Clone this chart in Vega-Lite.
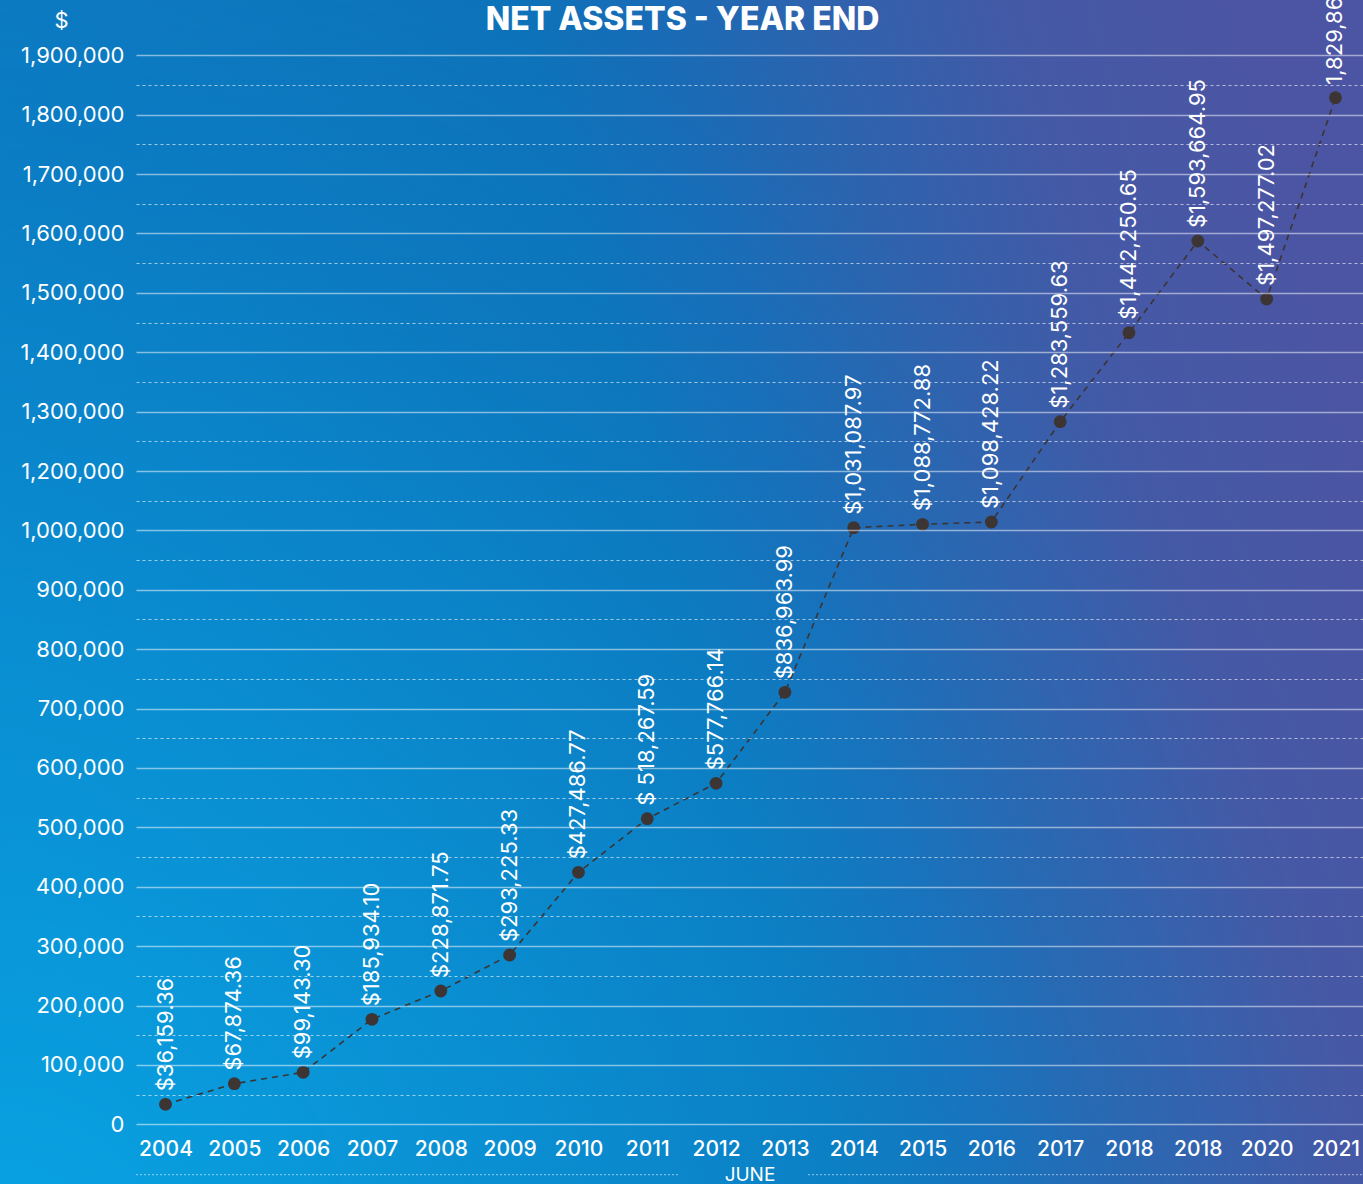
{
  "$schema": "https://vega.github.io/schema/vega-lite/v6.json",
  "width": 1227,
  "height": 1124,
  "autosize": {"type": "none"},
  "padding": {"left": 136, "top": 0, "right": 0, "bottom": 60},
  "background": "#0a78c0",
  "config": {
    "view": {"stroke": null},
    "font": "Inter",
    "axis": {
      "labelColor": "white",
      "titleColor": "white",
      "labelFont": "Inter",
      "titleFont": "Inter",
      "domain": false,
      "ticks": false,
      "tickSize": 0
    }
  },
  "resolve": {"axis": {"x": "independent", "y": "independent"}},
  "data": {
    "values": [
      {"year": 2004, "value": 33670, "label": "$36,159.36"},
      {"year": 2005, "value": 68350, "label": "$67,874.36"},
      {"year": 2006, "value": 87540, "label": "$99,143.30"},
      {"year": 2007, "value": 176770, "label": "$185,934.10"},
      {"year": 2008, "value": 224410, "label": "$228,871.75"},
      {"year": 2009, "value": 285020, "label": "$293,225.33"},
      {"year": 2010, "value": 424240, "label": "$427,486.77"},
      {"year": 2011, "value": 514480, "label": "$ 518,267.59"},
      {"year": 2012, "value": 574070, "label": "$577,766.14"},
      {"year": 2013, "value": 727270, "label": "$836,963.99"},
      {"year": 2014, "value": 1030600, "label": "$1,031,087.97"},
      {"year": 2015, "value": 1070600, "label": "$1,088,772.88"},
      {"year": 2016, "value": 1097600, "label": "$1,098,428.22"},
      {"year": 2017, "value": 1283000, "label": "$1,283,559.63"},
      {"year": 2018, "value": 1432800, "label": "$1,442,250.65"},
      {"year": 2019, "value": 1587200, "label": "$1,593,664.95"},
      {"year": 2020, "value": 1489600, "label": "$1,497,277.02"},
      {"year": 2021, "value": 1828500, "label": "1,829,86"}
    ]
  },
  "layer": [
    {
      "data": {"values": [{}]},
      "mark": {
        "type": "rect",
        "color": {
          "gradient": "linear",
          "x1": 0, "y1": 0.62, "x2": 1, "y2": 0.38,
          "stops": [
            {"offset": 0, "color": "#0a7cc4"},
            {"offset": 0.5, "color": "#0d72b9"},
            {"offset": 0.6, "color": "#1a6bb6"},
            {"offset": 0.72, "color": "#3062ad"},
            {"offset": 0.85, "color": "#4559a6"},
            {"offset": 1, "color": "#4b55a3"}
          ]
        }
      },
      "encoding": {
        "x": {"datum": 2001.595, "type": "quantitative", "scale": {"domain": [2003.571, 2021.4], "nice": false, "zero": false}, "axis": null},
        "x2": {"datum": 2021.4},
        "y": {"datum": 1992929, "type": "quantitative", "scale": {"domain": [0, 1000000, 1100000, 1150000, 1200000, 2000000], "range": [1124.3, 530.3, 521.8, 500.65, 471, -4.2], "nice": false, "zero": false}, "axis": null},
        "y2": {"datum": -100505}
      }
    },
    {
      "data": {"values": [{}]},
      "mark": {
        "type": "rect",
        "color": {
          "gradient": "radial",
          "x1": 0, "y1": 1, "r1": 0, "x2": 0, "y2": 1, "r2": 1,
          "stops": [
            {"offset": 0, "color": "rgba(8,170,232,0.85)"},
            {"offset": 0.3, "color": "rgba(8,170,232,0.55)"},
            {"offset": 0.55, "color": "rgba(8,170,232,0.3)"},
            {"offset": 0.8, "color": "rgba(8,170,232,0.08)"},
            {"offset": 1, "color": "rgba(8,170,232,0)"}
          ]
        }
      },
      "encoding": {
        "x": {"datum": 2001.595, "type": "quantitative", "scale": {"domain": [2003.571, 2021.4], "nice": false, "zero": false}, "axis": null},
        "x2": {"datum": 2021.4},
        "y": {"datum": 1992929, "type": "quantitative", "scale": {"domain": [0, 1000000, 1100000, 1150000, 1200000, 2000000], "range": [1124.3, 530.3, 521.8, 500.65, 471, -4.2], "nice": false, "zero": false}, "axis": null},
        "y2": {"datum": -100505}
      }
    },
    {
      "data": {"values": [{}]},
      "mark": {"type": "rule", "color": "white", "opacity": 0.55, "strokeWidth": 1, "strokeDash": [2, 2]},
      "encoding": {
        "x": {"datum": 2003.571, "type": "quantitative", "scale": {"domain": [2003.571, 2021.4], "nice": false, "zero": false}, "axis": null},
        "x2": {"datum": 2011.476},
        "y": {"datum": -84848, "type": "quantitative", "scale": {"domain": [0, 1000000, 1100000, 1150000, 1200000, 2000000], "range": [1124.3, 530.3, 521.8, 500.65, 471, -4.2], "nice": false, "zero": false}, "axis": null}
      }
    },
    {
      "data": {"values": [{}]},
      "mark": {"type": "rule", "color": "white", "opacity": 0.55, "strokeWidth": 1, "strokeDash": [2, 2]},
      "encoding": {
        "x": {"datum": 2013.336, "type": "quantitative", "scale": {"domain": [2003.571, 2021.4], "nice": false, "zero": false}, "axis": null},
        "x2": {"datum": 2021.4},
        "y": {"datum": -84848, "type": "quantitative", "scale": {"domain": [0, 1000000, 1100000, 1150000, 1200000, 2000000], "range": [1124.3, 530.3, 521.8, 500.65, 471, -4.2], "nice": false, "zero": false}, "axis": null}
      }
    },
    {
      "mark": {"type": "line", "color": "#3b3434", "strokeWidth": 1.6, "strokeDash": [6, 5]},
      "encoding": {
        "x": {
          "field": "year", "type": "quantitative",
          "scale": {"domain": [2003.571, 2021.4], "nice": false, "zero": false},
          "axis": {
            "zindex": 1,
            "orient": "bottom",
            "values": [2004, 2005, 2006, 2007, 2008, 2009, 2010, 2011, 2012, 2013, 2014, 2015, 2016, 2017, 2018, 2019, 2020, 2021],
            "format": "d",
            "labelExpr": "datum.value == 2019 ? '2018' : datum.label",
            "labelFontSize": 21,
            "labelFontWeight": 500,
            "labelPadding": 14,
            "labelFlush": false,
            "labelOverlap": false,
            "grid": false,
            "title": "JUNE",
            "titleFontSize": 19,
            "titleFontWeight": "normal",
            "titleBaseline": "alphabetic",
            "titleY": 56
          }
        },
        "y": {
          "field": "value", "type": "quantitative",
          "scale": {"domain": [0, 1000000, 1100000, 1150000, 1200000, 2000000], "range": [1124.3, 530.3, 521.8, 500.65, 471, -4.2], "nice": false, "zero": false},
          "axis": {
            "zindex": 1,
            "orient": "left",
            "values": [0, 100000, 200000, 300000, 400000, 500000, 600000, 700000, 800000, 900000, 1000000, 1200000, 1300000, 1400000, 1500000, 1600000, 1700000, 1800000, 1900000],
            "format": ",.0f",
            "labelFontSize": 22,
            "labelPadding": 12,
            "grid": true,
            "gridColor": "white",
            "gridOpacity": 0.5,
            "gridWidth": 1.5,
            "title": "$",
            "titleAngle": 0,
            "titleX": -75,
            "titleY": 20,
            "titleAlign": "center",
            "titleBaseline": "middle",
            "titleFontSize": 22,
            "titleFontWeight": "normal"
          }
        }
      }
    },
    {
      "mark": {"type": "circle", "color": "#3d3434", "opacity": 1, "size": 165},
      "encoding": {
        "x": {"field": "year", "type": "quantitative", "scale": {"domain": [2003.571, 2021.4], "nice": false, "zero": false}, "axis": null},
        "y": {
          "field": "value", "type": "quantitative",
          "scale": {"domain": [0, 1000000, 1100000, 1150000, 1200000, 2000000], "range": [1124.3, 530.3, 521.8, 500.65, 471, -4.2], "nice": false, "zero": false},
          "axis": {
            "zindex": 1,
            "orient": "right",
            "values": [50000, 150000, 250000, 350000, 450000, 550000, 650000, 750000, 850000, 950000, 1150000, 1250000, 1350000, 1450000, 1550000, 1650000, 1750000, 1850000],
            "labels": false,
            "grid": true,
            "gridColor": "white",
            "gridOpacity": 0.6,
            "gridWidth": 1,
            "gridDash": [3, 3],
            "title": null
          }
        }
      }
    },
    {
      "mark": {"type": "text", "angle": 270, "align": "left", "baseline": "middle", "dx": 13, "color": "white", "font": "Inter", "fontSize": 22},
      "encoding": {
        "x": {
          "field": "year", "type": "quantitative",
          "scale": {"domain": [2003.571, 2021.4], "nice": false, "zero": false},
          "axis": {
            "zindex": 2,
            "orient": "top",
            "values": [],
            "labels": false,
            "grid": false,
            "title": "NET ASSETS - YEAR END",
            "titleX": 546,
            "titleY": 29.5,
            "titleAlign": "center",
            "titleBaseline": "alphabetic",
            "titleAngle": 0,
            "titleFont": "Inter",
            "titleFontSize": 32,
            "titleFontWeight": 800,
            "titleColor": "white"
          }
        },
        "y": {"field": "value", "type": "quantitative", "scale": {"domain": [0, 1000000, 1100000, 1150000, 1200000, 2000000], "range": [1124.3, 530.3, 521.8, 500.65, 471, -4.2], "nice": false, "zero": false}, "axis": null},
        "text": {"field": "label"}
      }
    }
  ]
}
